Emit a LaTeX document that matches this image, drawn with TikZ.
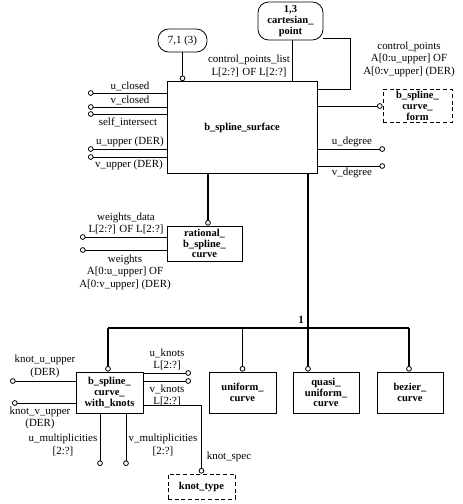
\documentclass[tikz,border=0pt]{standalone}
\usepackage{fontspec}
\setmainfont{Liberation Serif}
\usepackage{tikz}
\usetikzlibrary{arrows.meta,calc}

\begin{document}
\begin{tikzpicture}[
  x=0.75pt, y=-0.75pt,
  every node/.style={font=\fontsize{8.2}{9.4}\selectfont},
  lbl/.style={align=center, inner sep=0pt},
  entity/.style={rectangle, draw, line width=0.6pt, align=center, inner sep=0pt,
    font=\bfseries\fontsize{7.9}{8.1}\selectfont},
  typebox/.style={entity, dashed, dash pattern=on 3pt off 2pt},
  pageref/.style={rectangle, draw, line width=0.6pt, rounded corners=8pt,
    align=center, inner sep=0pt},
  plain/.style={line width=0.6pt},
  attr/.style={plain, -{Circle[open,length=4.2pt,width=4.2pt]}},
  subln/.style={line width=1pt},
  subref/.style={subln, -{Circle[open,length=4.2pt,width=4.2pt,line width=0.6pt]}},
]
  \useasboundingbox (0,0) rectangle (463,504);

  % Nodes
  \node[entity, minimum width=112.5pt, minimum height=69pt] (surf) at (242,127.5) {b\_spline\_surface};
  \node[pageref, minimum width=36.75pt, minimum height=17.25pt] (pt71) at (182.5,40.5) {7,1 (3)};
  \node[pageref, minimum width=48.75pt, minimum height=28.5pt,
    font=\bfseries\fontsize{7.9}{8.4}\selectfont] (cartpt) at (290.5,21) {1,3\\cartesian\_\\point};
  \node[typebox, minimum width=51.75pt, minimum height=24.5pt] (form) at (417.5,106) {b\_spline\_\\curve\_\\form};
  \node[entity, minimum width=56.25pt, minimum height=26.25pt] (rational) at (204.5,243.5) {rational\_\\b\_spline\_\\curve};
  \node[entity, minimum width=50.25pt, minimum height=30.75pt] (withknots) at (109.5,392.5) {b\_spline\_\\curve\_\\with\_knots};
  \node[entity, minimum width=50.25pt, minimum height=30.75pt] (uniform) at (242.5,392.5) {uniform\_\\curve};
  \node[entity, minimum width=49.5pt, minimum height=30.75pt] (quasi) at (326,392.5) {quasi\_\\uniform\_\\curve};
  \node[entity, minimum width=49.5pt, minimum height=30.75pt] (bezier) at (410,392.5) {bezier\_\\curve};
  \node[typebox, minimum width=50.25pt, minimum height=18.75pt] (knottype) at (201.5,486.5) {knot\_type};

  % Free ends
  \coordinate (uclosed) at (88,93);
  \coordinate (vclosed) at (88,107);
  \coordinate (selfint) at (88,114);
  \coordinate (uupper) at (88,149);
  \coordinate (vupper) at (88,157);
  \coordinate (udeg) at (385,149);
  \coordinate (vdeg) at (385,166);
  \coordinate (cpcorner) at (350,89);
  \coordinate (wdata) at (80,237);
  \coordinate (wts) at (80,250);
  \coordinate (busl) at (108,328);
  \coordinate (busr) at (409,328);
  \coordinate (kuupper) at (10,381);
  \coordinate (kvupper) at (12,403);
  \coordinate (uknotsa) at (191,373);
  \coordinate (uknotsb) at (191,381);
  \coordinate (umult) at (100,466);
  \coordinate (vmult) at (126,466);

  % Labels
  \node[lbl] (l-uc) at (130,86) {u\_closed};
  \node[lbl] (l-vc) at (130,100) {v\_closed};
  \node[lbl] (l-si) at (128,122) {self\_intersect};
  \node[lbl] (l-uu) at (130,142) {u\_upper (DER)};
  \node[lbl] (l-vu) at (129,165) {v\_upper (DER)};
  \node[lbl] (l-ud) at (352,142) {u\_degree};
  \node[lbl] (l-vd) at (352,173) {v\_degree};
  \node[lbl] (l-cpl) at (249,66) {control\_points\_list\\L[2:?] OF L[2:?]};
  \node[lbl] (l-cp) at (409,59) {control\_points\\A[0:u\_upper] OF\\A[0:v\_upper] (DER)};
  \node[lbl] (l-wd) at (126,223.5) {weights\_data\\L[2:?] OF L[2:?]};
  \node[lbl] (l-w) at (125,272) {weights\\A[0:u\_upper] OF\\A[0:v\_upper] (DER)};
  \node[lbl, font=\bfseries\fontsize{8.2}{9.4}\selectfont] (l-one) at (301,320) {1};
  \node[lbl] (l-kuu) at (45,366.5) {knot\_u\_upper\\(DER)};
  \node[lbl] (l-kvu) at (40,418) {knot\_v\_upper\\(DER)};
  \node[lbl] (l-uk) at (167,359.5) {u\_knots\\L[2:?]};
  \node[lbl] (l-vk) at (167,395.5) {v\_knots\\L[2:?]};
  \node[lbl] (l-um) at (63,445) {u\_multiplicities\\{[2:?]}};
  \node[lbl] (l-vm) at (163,445) {v\_multiplicities\\{[2:?]}};
  \node[lbl] (l-ks) at (229,457) {knot\_spec};

  % Edges
  \draw[attr] (pt71) -- (pt71 |- surf.north);
  \draw[plain] (cartpt.south -| 292,0) -- (surf.north -| 292,0);
  \draw[plain] ([yshift=1.5pt]cartpt.south east) -| (cpcorner) -- (cpcorner -| surf.east);
  \draw[attr] (surf.east |- form) -- (form.west);
  \draw[attr] (surf.west |- uclosed) -- (uclosed);
  \draw[attr] (surf.west |- vclosed) -- (vclosed);
  \draw[attr] (surf.west |- selfint) -- (selfint);
  \draw[attr] (surf.west |- uupper) -- (uupper);
  \draw[attr] (surf.west |- vupper) -- (vupper);
  \draw[attr] (surf.east |- udeg) -- (udeg);
  \draw[attr] (surf.east |- vdeg) -- (vdeg);
  \draw[subref] (surf.south -| 208,0) -- (rational.north -| 208,0);
  \draw[attr] (rational.west |- wdata) -- (wdata);
  \draw[attr] (rational.west |- wts) -- (wts);

  \draw[subref] (surf.south -| 308,0) -- (quasi.north -| 308,0);
  \draw[subln] (busl) -- (busr);
  \draw[subref] (busl) -- (busl |- withknots.north);
  \draw[subref] (uniform.north |- busl) -- (uniform.north);
  \draw[subref] (busr) -- (busr |- bezier.north);

  \draw[attr] (withknots.west |- kuupper) -- (kuupper);
  \draw[attr] (withknots.west |- kvupper) -- (kvupper);
  \draw[attr] (withknots.east |- uknotsa) -- (uknotsa);
  \draw[attr] (withknots.east |- uknotsb) -- (uknotsb);
  \draw[attr] (withknots.south -| umult) -- (umult);
  \draw[attr] (withknots.south -| vmult) -- (vmult);
  \draw[attr] (withknots.east |- 0,405) -| (knottype.north);
\end{tikzpicture}
\end{document}
